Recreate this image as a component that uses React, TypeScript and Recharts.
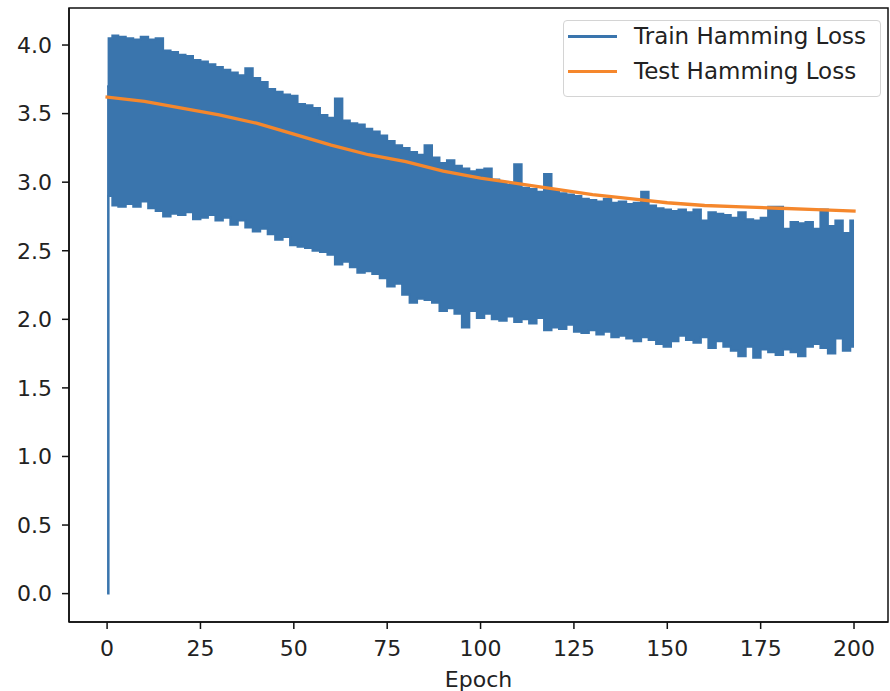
import { ComposedChart, Area, Line, XAxis, YAxis, Legend, ReferenceArea } from "recharts";

// train loss is a dense zig-zag, kept here as its lower / upper envelope per sample
const trainEpochs = [0, 0.8, ...Array.from({ length: 100 }, (_, i) => 2 * (i + 1))];

const trainHigh = [
  3.7, 4.05,
  4.07, 4.06, 4.05, 4.04, 4.06, 4.04, 4.05, 3.96, 3.95, 3.93,
  3.92, 3.89, 3.88, 3.86, 3.84, 3.82, 3.8, 3.78, 3.83, 3.76,
  3.73, 3.68, 3.66, 3.64, 3.63, 3.57, 3.56, 3.54, 3.49, 3.47,
  3.61, 3.45, 3.43, 3.42, 3.39, 3.37, 3.34, 3.3, 3.27, 3.25,
  3.22, 3.2, 3.27, 3.18, 3.14, 3.16, 3.12, 3.1, 3.08, 3.09,
  3.1, 3.02, 3.0, 2.98, 3.13, 2.96, 2.95, 2.93, 3.06, 2.94,
  2.92, 2.91, 2.9, 2.88, 2.87, 2.86, 2.88, 2.85, 2.86, 2.84,
  2.85, 2.93, 2.83, 2.81, 2.8, 2.79, 2.8, 2.78, 2.8, 2.72,
  2.78, 2.77, 2.76, 2.74, 2.78, 2.73, 2.72, 2.74, 2.82, 2.82,
  2.66, 2.71, 2.7, 2.71, 2.66, 2.8, 2.68, 2.72, 2.63, 2.72,
];

const trainLow = [
  0.0, 2.9,
  2.83, 2.82, 2.84, 2.82, 2.86, 2.81, 2.79, 2.75, 2.77, 2.76,
  2.78, 2.73, 2.74, 2.76, 2.72, 2.74, 2.69, 2.72, 2.67, 2.64,
  2.66, 2.62, 2.58, 2.6, 2.54, 2.53, 2.52, 2.5, 2.49, 2.47,
  2.4, 2.42, 2.38, 2.34, 2.35, 2.33, 2.3, 2.24, 2.26, 2.18,
  2.12, 2.15, 2.14, 2.12, 2.06, 2.08, 2.04, 1.94, 2.06, 2.01,
  2.04, 2.0, 1.99, 2.02, 1.98, 2.0, 1.97, 2.01, 1.92, 1.94,
  1.93, 1.96, 1.91, 1.9, 1.92, 1.89, 1.91, 1.87, 1.88, 1.86,
  1.84, 1.87, 1.85, 1.82, 1.8, 1.84, 1.88, 1.85, 1.83, 1.87,
  1.79, 1.84, 1.8, 1.77, 1.73, 1.8, 1.72, 1.78, 1.76, 1.74,
  1.78, 1.76, 1.73, 1.8, 1.82, 1.79, 1.75, 1.86, 1.77, 1.8,
];

const testEpochs = [0, 10, 20, 30, 40, 50, 60, 70, 80, 90, 100, 110, 120, 130, 140, 150, 160, 170, 180, 190, 200];
const testLoss = [3.62, 3.59, 3.54, 3.49, 3.43, 3.35, 3.27, 3.2, 3.15, 3.08, 3.03, 2.99, 2.95, 2.91, 2.88, 2.85, 2.83, 2.82, 2.81, 2.8, 2.79];

const xTicks = [0, 25, 50, 75, 100, 125, 150, 175, 200];
const yTicks = [0, 0.5, 1, 1.5, 2, 2.5, 3, 3.5, 4];

const trainRows = trainEpochs.map((epoch, i) => ({ epoch, range: [trainLow[i], trainHigh[i]] }));
const testRows = testEpochs.map((epoch, i) => ({ epoch, loss: testLoss[i] }));

const BLUE = "#3a75ad";
const ORANGE = "#f5872c";
const FONT = "'DejaVu Sans', sans-serif";
const X_DOMAIN = [-10.2, 209.1];
const Y_DOMAIN = [-0.207, 4.27];

const legendItems = [
  { name: "Train Hamming Loss", color: BLUE },
  { name: "Test Hamming Loss", color: ORANGE },
];

const LegendBox = () => (
  <div
    style={{
      position: "relative",
      boxSizing: "border-box",
      width: 318,
      minWidth: 318,
      height: 77,
      border: "1px solid #d4d4d4",
      borderRadius: 4,
      background: "rgba(255,255,255,0.8)",
      fontFamily: FONT,
      fontSize: 23,
      color: "#222",
    }}
  >
    {legendItems.map((item, i) => (
      <div key={item.name} style={{ position: "absolute", left: 0, top: 16 + i * 35, height: 0 }}>
        <div style={{ position: "absolute", left: 4, top: -2, width: 49, height: 3.3, background: item.color }} />
        <div style={{ position: "absolute", left: 70, top: -14, whiteSpace: "nowrap", lineHeight: "27px" }}>
          {item.name}
        </div>
      </div>
    ))}
  </div>
);

export default function App() {
  return (
    <div style={{ position: "absolute", left: 0, top: 0 }}>
      <ComposedChart width={890} height={691} margin={{ top: 8, right: 2, bottom: 0, left: 0 }}>
        <XAxis
          type="number"
          dataKey="epoch"
          domain={X_DOMAIN}
          ticks={xTicks}
          allowDataOverflow
          height={69}
          tickSize={7}
          tickMargin={11}
          axisLine={{ stroke: "#111", strokeWidth: 1.5 }}
          tickLine={{ stroke: "#111", strokeWidth: 1.5 }}
          tick={{ fontSize: 22, fontFamily: FONT, fill: "#222" }}
          label={{ value: "Epoch", position: "insideBottom", offset: 4, fontSize: 22, fontFamily: FONT, fill: "#222" }}
        />
        <YAxis
          type="number"
          domain={Y_DOMAIN}
          ticks={yTicks}
          allowDataOverflow
          width={69}
          tickSize={7}
          tickMargin={10}
          tickFormatter={(v: number) => v.toFixed(1)}
          axisLine={{ stroke: "#111", strokeWidth: 1.5 }}
          tickLine={{ stroke: "#111", strokeWidth: 1.5 }}
          tick={{ fontSize: 22, fontFamily: FONT, fill: "#222" }}
        />
        <ReferenceArea
          x1={X_DOMAIN[0]}
          x2={X_DOMAIN[1]}
          y1={Y_DOMAIN[0]}
          y2={Y_DOMAIN[1]}
          fill="none"
          stroke="#111"
          strokeWidth={1.5}
        />
        <Area
          data={trainRows}
          dataKey="range"
          name="Train Hamming Loss"
          type="step"
          fill={BLUE}
          fillOpacity={1}
          stroke={BLUE}
          strokeWidth={2}
          isAnimationActive={false}
          activeDot={false}
        />
        <Line
          data={testRows}
          dataKey="loss"
          name="Test Hamming Loss"
          type="linear"
          stroke={ORANGE}
          strokeWidth={3.3}
          strokeLinecap="square"
          dot={false}
          activeDot={false}
          isAnimationActive={false}
        />
        <Legend
          layout="vertical"
          align="center"
          verticalAlign="middle"
          width={318}
          height={77}
          wrapperStyle={{ left: 563, top: 20, width: 318, height: 77 }}
          content={() => <LegendBox />}
        />
      </ComposedChart>
    </div>
  );
}
